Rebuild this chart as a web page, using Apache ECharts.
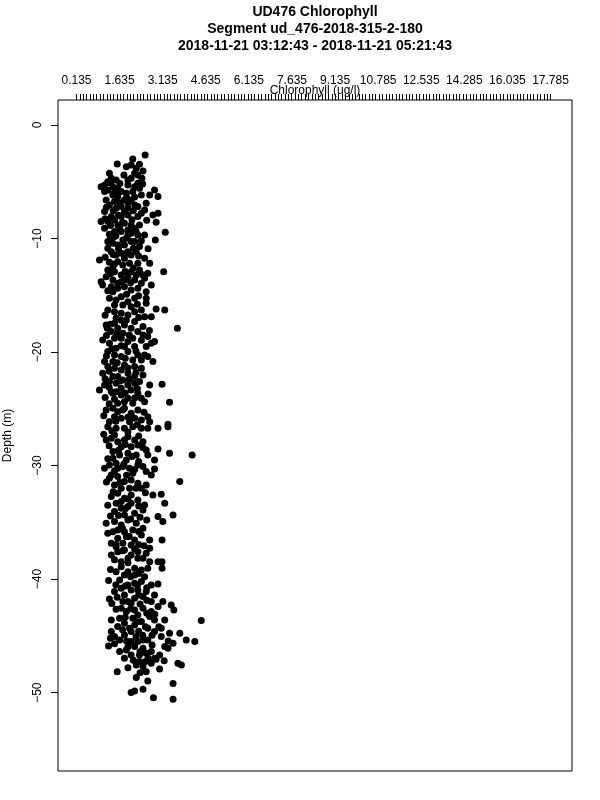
<!DOCTYPE html>
<html><head><meta charset="utf-8">
<script src="https://cdn.jsdelivr.net/npm/echarts@6/dist/echarts.min.js"></script>
<style>html,body{margin:0;padding:0;background:#fff}#c{width:600px;height:800px}</style>
</head><body><div id="c"></div>
<script>
const titleLines = ['UD476 Chlorophyll', 'Segment ud_476-2018-315-2-180', '2018-11-21 03:12:43 - 2018-11-21 05:21:43'];
const xName = 'Chlorophyll (ug/l)';
const yName = 'Depth (m)';
const xTickLabels = ['0.135','1.635','3.135','4.635','6.135','7.635','9.135','10.785','12.535','14.285','16.035','17.785'];
const xFirst = 0.135, xLast = 17.785;
const yTickValues = [0, -10, -20, -30, -40, -50];

// [chlorophyll (ug/l), depth (m)]
const band1 = [
[2.69,-2.64],[2.23,-3.00],[1.65,-3.43],[1.99,-3.67],[2.17,-3.52],[2.36,-3.82],[2.48,-3.46],[2.61,-4.05],[2.42,-4.40],[2.30,-4.26],
[2.57,-4.70],[1.36,-4.26],[1.43,-4.70],[1.18,-5.28],[1.30,-4.99],[1.49,-5.43],[1.67,-5.58],[1.80,-5.87],[2.05,-5.28],[2.42,-5.14],
[2.48,-5.58],[3.04,-5.72],[2.86,-6.16],[3.17,-6.31],[1.05,-5.43],[1.67,-6.31],[1.92,-6.60],[1.55,-6.75],[1.36,-7.04],[1.18,-7.63],
[2.17,-6.60],[2.42,-7.19],[2.55,-6.16],[2.73,-6.90],[2.67,-7.49],[1.80,-7.19],[2.05,-7.34],[2.30,-7.04],[1.05,-8.51],[1.30,-8.51],
[1.55,-8.37],[1.80,-8.07],[2.05,-7.93],[2.42,-8.07],[2.98,-7.93],[3.17,-7.78],[3.10,-8.57],[2.17,-8.81],[2.48,-8.81],[1.67,-8.81],
[1.92,-8.66],[1.36,-9.63],[1.30,-10.27],[1.55,-9.83],[1.80,-9.39],[2.17,-9.54],[2.42,-9.69],[2.30,-10.27],[3.44,-9.45],[3.07,-10.13],
[1.99,-9.98],[2.48,-10.71],[2.36,-11.16],[1.30,-10.86],[1.67,-10.57],[1.92,-10.57],[2.05,-11.16],[1.61,-11.45],[1.43,-11.16],[0.99,-11.89],
[1.36,-12.09],[1.67,-12.04],[1.92,-11.74],[2.11,-12.18],[2.42,-12.18],[2.86,-12.18],[1.30,-12.77],[1.55,-12.92],[1.80,-13.21],[2.17,-12.92],
[2.48,-12.77],[2.79,-13.06],[3.38,-12.92],[1.05,-13.80],[2.67,-13.50],[2.30,-13.65],[1.92,-13.65],[1.49,-13.65],[1.67,-13.94],[2.55,-13.94],
[1.49,-6.16],[1.61,-7.34],[1.92,-7.63],[1.43,-8.07],[1.74,-9.10],[2.05,-9.25],[1.55,-9.39],[1.86,-10.13],[2.17,-10.27],[1.49,-10.42],
[1.80,-11.30],[2.17,-11.45],[1.86,-12.33],[1.49,-12.48],[2.05,-13.36],[1.24,-13.36],[2.36,-13.21],[1.18,-5.87],[1.61,-4.84],[2.17,-4.70],
[2.23,-5.87],[1.24,-6.60],[1.99,-6.02],[2.55,-7.78],[2.30,-9.10],[1.18,-9.10],[2.67,-11.74],[2.67,-9.69],
[1.40,-5.10],[1.75,-5.15],[2.30,-5.45],[1.30,-5.75],[2.00,-6.40],[2.30,-6.35],[1.75,-6.85],[2.05,-6.85],[1.25,-7.25],[1.50,-7.55],
[2.25,-7.55],[1.70,-7.95],[1.20,-8.25],[2.20,-8.35],[1.85,-8.60],[1.40,-8.85],[2.35,-9.35],[1.60,-9.75],[2.05,-9.70],[1.40,-10.05],
[2.55,-10.20],[1.70,-10.90],[2.25,-10.85],[1.50,-11.40],[1.95,-11.35],[2.45,-11.55],[1.20,-11.65],[1.55,-12.25],[2.25,-12.60],[1.95,-12.90],
[1.40,-13.10],[2.60,-13.20],[1.80,-13.80],[2.15,-13.90],[2.80,-10.90],[2.75,-8.40],[2.60,-5.20],[1.90,-4.40],[2.05,-4.85],[1.55,-5.95]
];
const band2 = [
[1.11,-14.09],[1.43,-14.24],[1.67,-14.38],[1.92,-14.24],[2.17,-14.53],[2.42,-14.38],[2.73,-14.68],[2.92,-14.09],
[1.36,-15.26],[1.61,-15.41],[1.80,-15.12],[2.05,-15.56],[2.30,-15.26],[2.73,-15.26],[2.73,-15.70],[3.10,-16.20],[3.42,-16.29],
[1.30,-16.29],[1.55,-16.44],[1.80,-16.59],[2.05,-16.73],[2.30,-16.44],[2.55,-16.29],[2.67,-16.88],[2.92,-16.88],
[1.24,-17.61],[1.28,-17.91],[1.55,-17.47],[1.67,-17.91],[1.92,-17.61],[2.17,-17.91],[2.42,-18.20],[2.61,-18.49],[2.79,-18.64],[3.89,-17.91],
[1.11,-18.93],[1.36,-19.23],[1.55,-18.79],[1.80,-18.79],[2.05,-19.08],[2.30,-19.52],[2.73,-19.52],[2.92,-19.23],[3.04,-19.08],
[1.30,-19.96],[1.55,-20.26],[1.80,-20.40],[2.05,-19.96],[2.42,-20.26],[2.67,-20.26],[2.79,-20.40],[2.98,-20.84],[1.30,-21.28],
[1.11,-21.87],[1.55,-21.43],[1.80,-21.58],[2.05,-21.87],[2.55,-21.43],[2.61,-22.02],[2.30,-22.16],[1.67,-22.16],
[0.99,-23.34],[1.18,-22.90],[1.36,-22.60],[1.61,-22.75],[1.80,-23.19],[2.05,-22.90],[2.30,-22.75],[2.86,-22.90],[3.32,-22.84],[1.43,-23.49],
[1.20,-24.01],[1.49,-23.63],[1.80,-23.78],[2.05,-24.07],[2.42,-23.63],[2.55,-24.07],[2.67,-24.37],[3.60,-24.42],[1.67,-24.51],
[1.24,-25.10],[1.49,-24.95],[1.67,-25.25],[1.92,-24.95],[2.17,-25.39],[2.42,-25.10],[2.79,-25.69],[1.36,-26.13],[1.80,-25.83],[2.11,-26.13],
[2.55,-25.98],[2.86,-26.13],[3.54,-26.36],
[1.49,-14.68],[1.86,-15.85],[2.17,-16.00],[1.61,-17.03],[1.99,-17.17],[2.30,-17.32],[1.43,-18.20],[1.86,-18.35],[2.23,-18.79],[1.61,-19.67],
[1.92,-19.52],[2.23,-20.69],[1.49,-20.84],[1.92,-21.14],[2.30,-21.28],[1.49,-22.16],[1.86,-22.46],[1.61,-23.49],[2.17,-23.34],[1.92,-24.37],
[2.23,-24.51],[1.55,-25.69],[2.30,-25.83],[1.18,-20.84],[2.48,-22.60],[2.61,-17.76],
[1.30,-14.60],[2.00,-14.90],[2.45,-15.05],[1.55,-15.85],[2.40,-15.80],[1.20,-16.75],[1.80,-17.20],[2.45,-16.95],[1.40,-17.55],[2.10,-18.50],
[1.65,-18.40],[1.25,-18.55],[2.55,-18.95],[1.45,-19.70],[1.80,-19.45],[2.35,-19.90],[1.25,-20.35],[1.95,-20.55],[2.55,-20.70],[1.65,-20.95],
[1.35,-21.70],[2.05,-21.40],[2.35,-21.80],[1.20,-22.35],[1.75,-22.55],[2.10,-22.40],[1.35,-23.10],[2.40,-23.20],[1.95,-23.60],[1.55,-24.15],
[2.30,-24.05],[1.35,-24.55],[1.85,-25.10],[2.65,-25.30],[2.05,-25.75],[1.60,-26.10],[2.40,-26.40],[1.15,-25.60],[2.80,-23.70],[2.85,-18.10]
];
const band3 = [
[1.30,-26.57],[1.61,-26.71],[1.92,-26.71],[2.23,-26.57],[2.55,-26.71],[2.79,-26.71],[3.17,-26.71],[3.54,-26.57],
[1.24,-27.74],[1.43,-27.59],[1.67,-27.89],[2.05,-27.45],[2.30,-27.74],[2.61,-27.89],[1.80,-28.33],[2.17,-28.33],[2.42,-28.18],
[1.49,-28.77],[1.74,-29.06],[2.05,-28.92],[2.36,-29.06],[2.73,-28.62],[2.79,-29.06],[3.17,-28.53],[3.60,-28.92],[4.44,-29.06],[3.04,-29.50],
[1.18,-30.24],[1.36,-29.94],[1.61,-29.80],[1.86,-30.09],[2.11,-30.24],[2.42,-29.94],[3.04,-30.30],[2.73,-30.53],[1.43,-30.82],
[1.36,-31.12],[1.67,-30.97],[1.92,-31.41],[2.17,-31.26],[2.92,-30.82],[2.73,-31.70],[2.55,-32.00],[3.98,-31.41],[1.80,-32.00],
[1.43,-32.73],[1.67,-32.44],[1.92,-32.88],[2.17,-32.59],[2.42,-33.03],[2.67,-33.47],[2.98,-32.59],[3.29,-32.53],[3.42,-33.32],
[1.55,-34.05],[1.80,-33.76],[2.05,-33.61],[2.30,-34.20],[2.61,-33.91],[3.17,-34.49],[3.35,-34.93],[3.73,-34.35],
[1.24,-35.08],[1.55,-34.93],[1.80,-35.23],[2.05,-34.79],[2.36,-35.08],[2.61,-35.52],[1.92,-35.82],[1.49,-35.82],
[1.43,-36.84],[1.67,-36.40],[1.99,-36.26],[2.30,-36.55],[2.55,-36.11],[2.86,-36.55],[3.32,-36.55],
[1.43,-37.87],[1.67,-37.58],[1.92,-37.43],[2.17,-37.87],[2.42,-37.58],[2.61,-38.16],[2.86,-37.28],[2.86,-38.46],[1.80,-38.46],[3.17,-38.46],[3.32,-38.46],
[1.55,-27.30],[1.92,-27.74],[1.49,-29.36],[1.99,-29.50],[1.67,-30.24],[2.23,-30.68],[1.55,-31.70],[2.11,-32.00],[2.42,-31.55],[1.80,-33.17],
[2.17,-33.32],[1.61,-33.32],[1.92,-34.35],[2.23,-35.67],[1.67,-35.67],[2.17,-36.99],[1.86,-36.84],[1.61,-37.14],[2.05,-38.16],[2.42,-38.16],
[2.73,-37.72],[2.61,-30.09],
[1.45,-26.95],[2.05,-27.05],[2.45,-27.40],[1.15,-27.25],[1.95,-28.15],[1.35,-28.25],[2.60,-28.40],[1.70,-28.65],[2.20,-29.20],[1.30,-29.40],
[2.45,-29.65],[1.90,-29.85],[2.30,-30.35],[1.55,-30.45],[2.00,-30.85],[1.25,-31.45],[1.75,-31.50],[2.35,-32.00],[2.70,-32.40],[1.50,-32.30],
[2.05,-32.95],[1.30,-33.50],[1.95,-33.80],[2.45,-33.55],[1.70,-34.40],[2.15,-34.70],[2.50,-34.55],[1.40,-34.45],[1.85,-35.55],[2.45,-35.80],
[1.30,-35.95],[2.10,-36.25],[1.60,-36.95],[2.45,-36.95],[1.85,-37.50],[2.30,-37.35],[1.55,-38.30],[2.05,-38.55],[2.65,-37.05],[2.75,-34.80]
];
const band4 = [
[1.80,-38.90],[2.05,-39.34],[2.30,-39.04],[2.55,-39.19],[2.79,-39.04],[3.32,-39.04],[1.92,-39.63],[2.67,-39.78],
[1.33,-40.13],[1.74,-40.07],[2.05,-40.51],[2.30,-40.36],[2.55,-40.22],[2.92,-40.51],[3.17,-40.42],[1.80,-40.81],[2.17,-40.95],[2.73,-41.10],
[1.36,-41.74],[1.92,-41.39],[2.30,-41.69],[2.61,-41.54],[3.04,-41.39],[2.92,-41.98],[3.35,-41.98],[2.17,-42.13],[1.86,-41.98],
[1.61,-42.65],[1.99,-42.86],[2.30,-42.71],[2.61,-42.57],[2.92,-42.86],[3.17,-42.42],[3.66,-42.27],[3.76,-42.71],[1.74,-43.45],[1.43,-43.59],[2.23,-43.45],[2.86,-43.30],
[1.92,-43.89],[2.30,-44.03],[2.55,-43.74],[3.04,-43.59],[3.42,-43.59],[4.78,-43.65],[1.43,-44.62],[2.79,-44.33],[3.29,-44.33],
[1.55,-45.06],[1.92,-44.92],[2.17,-44.62],[2.42,-45.50],[2.79,-45.36],[3.29,-45.06],[3.60,-44.77],[3.98,-44.77],[4.22,-45.36],[4.54,-45.50],[3.73,-45.65],[1.33,-45.88],
[1.74,-46.38],[1.99,-46.24],[2.30,-45.94],[2.61,-46.09],[2.92,-46.38],[3.23,-46.68],[3.42,-45.94],[1.92,-46.97],[3.04,-46.97],[2.73,-46.53],
[2.36,-47.56],[2.61,-47.70],[2.92,-47.41],[3.23,-47.91],[3.91,-47.41],[4.04,-47.56],[1.65,-48.15],[2.73,-48.15],
[2.36,-48.67],[2.79,-48.97],[3.73,-49.20],
[2.17,-49.99],[2.30,-49.85],[2.61,-49.70],[3.00,-50.44],[3.73,-50.58],
[1.61,-39.34],[2.30,-39.63],[1.55,-41.10],[2.42,-40.95],[2.05,-41.98],[1.80,-42.57],[2.42,-43.15],[1.67,-44.18],[2.11,-44.33],[3.04,-44.62],
[1.74,-45.36],[2.17,-45.50],[2.61,-45.36],[2.17,-46.68],[2.48,-46.68],[2.48,-47.26],[3.54,-46.09],
[1.40,-39.15],[2.15,-39.80],[2.45,-39.50],[1.60,-40.50],[1.95,-40.60],[2.40,-40.55],[2.75,-40.75],[1.65,-41.60],[2.45,-41.40],[2.75,-41.85],
[1.45,-42.15],[2.15,-42.60],[2.50,-42.20],[2.75,-43.00],[1.95,-43.35],[2.40,-43.75],[2.70,-44.20],[1.85,-44.45],[2.45,-44.60],[2.95,-44.95],
[1.40,-45.20],[2.00,-45.45],[2.35,-45.05],[2.95,-45.80],[1.55,-45.70],[2.05,-45.95],[2.50,-46.40],[2.80,-46.95],[2.25,-47.15],[2.70,-47.25],
[3.10,-47.05],[3.55,-45.45],[2.05,-47.80],[2.50,-48.25],[3.40,-47.20],[3.20,-44.20],[3.05,-43.10],[2.60,-44.95]
];

const FONT = 'Liberation Sans, Arial, Helvetica, sans-serif';
const labelStep = (xLast - xFirst) / (xTickLabels.length - 1);
const labelPos = xTickLabels.map((_, i) => xFirst + i * labelStep);
const minorCount = 141;
const minorPos = [];
for (let j = 0; j <= minorCount; j++) minorPos.push(xFirst + j * (xLast - xFirst) / minorCount);

const chart = echarts.init(document.getElementById('c'), null, {renderer: 'canvas'});
chart.setOption({
  animation: false,
  backgroundColor: '#fff',
  graphic: titleLines.map((t, i) => ({
    type: 'text', x: 315, y: 12 + i * 17,
    style: {text: t, fill: '#000', font: 'bold 14px ' + FONT, textAlign: 'center', textVerticalAlign: 'middle'}
  })),
  grid: {left: 58, top: 100, width: 514, height: 671, containLabel: false, outerBoundsMode: 'none',
    show: true, borderColor: '#000', borderWidth: 1, backgroundColor: 'transparent'},
  xAxis: {
    type: 'value', position: 'top', min: -0.554, max: 18.585,
    name: xName, nameLocation: 'middle', nameGap: 9, nameMoveOverlap: false,
    nameTextStyle: {fontFamily: FONT, fontSize: 12, color: '#000', verticalAlign: 'middle'},
    axisLine: {show: false, onZero: false},
    splitLine: {show: false},
    axisTick: {show: true, inside: false, length: 6, lineStyle: {color: '#000', width: 1}, customValues: minorPos},
    axisLabel: {
      show: true, margin: 13, color: '#000', fontFamily: FONT, fontSize: 12, customValues: labelPos,
      formatter: function (v) {
        for (let i = 0; i < labelPos.length; i++) if (Math.abs(labelPos[i] - v) < 1e-6) return xTickLabels[i];
        return '';
      }
    }
  },
  yAxis: {
    type: 'value', min: -56.9, max: 2.2,
    name: yName, nameLocation: 'middle', nameGap: 50, nameRotate: 90, nameMoveOverlap: false,
    nameTextStyle: {fontFamily: FONT, fontSize: 12, color: '#000', verticalAlign: 'middle'},
    axisLine: {show: false, onZero: false},
    splitLine: {show: false},
    axisTick: {show: true, inside: false, length: 7, lineStyle: {color: '#000', width: 1}, customValues: yTickValues},
    axisLabel: {show: true, rotate: 90, margin: 14, color: '#000', fontFamily: FONT, fontSize: 12, customValues: yTickValues,
      formatter: v => String(v).replace('-', '\u2212')}
  },
  series: [band1, band2, band3, band4].map(d => ({
    type: 'scatter', data: d, symbol: 'circle', symbolSize: 7, silent: true,
    itemStyle: {color: '#000', opacity: 1}
  }))
});
</script>
</body></html>
